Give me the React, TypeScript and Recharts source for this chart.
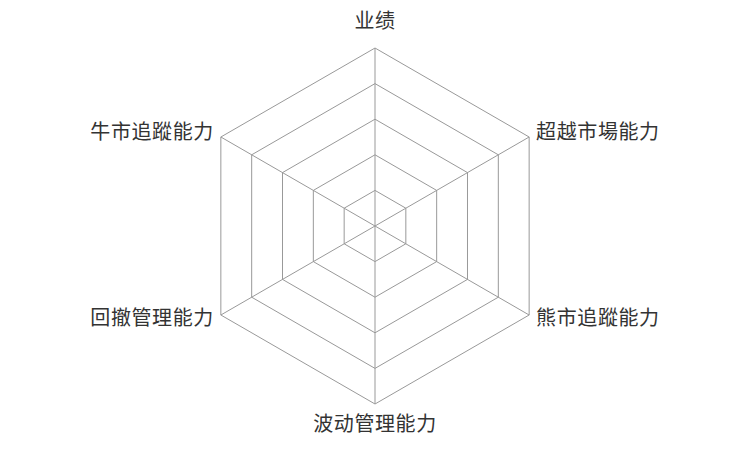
import React from "react";
import { PolarAngleAxis, PolarGrid, PolarRadiusAxis, Radar, RadarChart } from "recharts";

// radar dimensions (no values plotted in the reference, only the frame)
const indicators = [
  "业绩",
  "超越市場能力",
  "熊市追蹤能力",
  "波动管理能力",
  "回撤管理能力",
  "牛市追蹤能力",
];
// empty series: the reference shows no polygon
const scores: (number | null)[] = [null, null, null, null, null, null];
const radiusDomain = [0, 100];
const ringCount = 6;

const data = indicators.map((name, i) => ({ name, score: scores[i] }));

const FONT = '"Microsoft YaHei", "Noto Sans CJK SC", sans-serif';

function IndicatorTick(props: any) {
  const { x, y, cx, cy, payload } = props;
  const dx = x - cx;
  const dyv = y - cy;
  let anchor: "start" | "middle" | "end" = "middle";
  if (dx > 1) anchor = "start";
  else if (dx < -1) anchor = "end";
  let shift = 6;
  if (Math.abs(dx) <= 1) shift = dyv < 0 ? -12 : 19;
  return (
    <text
      x={x}
      y={y + shift}
      textAnchor={anchor}
      fill="#333"
      fontSize={20}
      letterSpacing={0.6}
      fontFamily={FONT}
    >
      {payload.value}
    </text>
  );
}

export default function App() {
  return (
    <div style={{ position: "absolute", left: 0, top: 0, width: 750, height: 450, background: "#fff" }}>
      <RadarChart
        width={750}
        height={450}
        data={data}
        cx={375}
        cy={226}
        outerRadius={178}
        startAngle={90}
        endAngle={-270}
        margin={{ top: 0, right: 0, bottom: 0, left: 0 }}
      >
        <PolarGrid gridType="polygon" stroke="#999" strokeWidth={1} />
        <PolarAngleAxis
          dataKey="name"
          tick={<IndicatorTick />}
          tickLine={false}
          axisLine={false}
        />
        <PolarRadiusAxis
          type="number"
          domain={radiusDomain}
          allowDataOverflow
          tickCount={ringCount}
          tick={false}
          axisLine={false}
        />
        <Radar
          dataKey="score"
          stroke="none"
          fill="none"
          dot={false}
          isAnimationActive={false}
        />
      </RadarChart>
    </div>
  );
}
